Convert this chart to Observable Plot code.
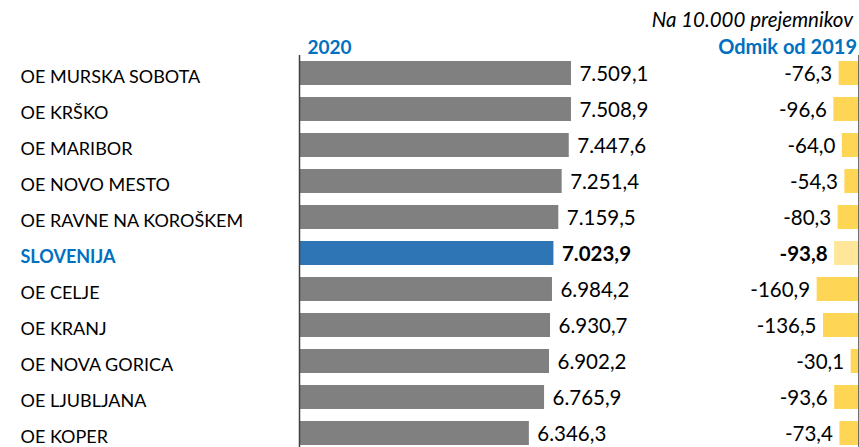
<!DOCTYPE html>
<html>
<head>
<meta charset="utf-8">
<script src="https://cdn.jsdelivr.net/npm/d3@7"></script>
<script src="https://cdn.jsdelivr.net/npm/@observablehq/plot@0.6"></script>
<style>
  body { margin: 0; background: #fff; }
  #wrap { position: relative; width: 859px; height: 447px; }
  #wrap svg { position: absolute; left: 0; top: 0; }
</style>
</head>
<body>
<div id="wrap"></div>
<script>
const categories = ["OE MURSKA SOBOTA", "OE KRŠKO", "OE MARIBOR", "OE NOVO MESTO", "OE RAVNE NA KOROŠKEM", "SLOVENIJA", "OE CELJE", "OE KRANJ", "OE NOVA GORICA", "OE LJUBLJANA", "OE KOPER"];
const values2020 = [7509.1, 7508.9, 7447.6, 7251.4, 7159.5, 7023.9, 6984.2, 6930.7, 6902.2, 6765.9, 6346.3];
const diff2019 = [-76.3, -96.6, -64.0, -54.3, -80.3, -93.8, -160.9, -136.5, -30.1, -93.6, -73.4];
const highlight = "SLOVENIJA";

const data = categories.map((c, i) => ({cat: c, v: values2020[i], d: diff2019[i], hl: c === highlight}));
const normal = data.filter(d => !d.hl);
const hl = data.filter(d => d.hl);
const fmt = d3.formatLocale({decimal: ",", thousands: ".", grouping: [3], currency: ["", ""], minus: "-"}).format(",.1f");
const FONT = "Lato, sans-serif";
const FS_LABEL = 18;
const FS_NUM = 20.5;
const W = 859, H = 447;
const yOpts = {domain: categories, range: [55, 451], paddingInner: 1 / 3, paddingOuter: 1 / 6, round: false, axis: null};

const left = Plot.plot({
  width: W, height: H,
  marginLeft: 299, marginRight: W - 299 - 362.2, marginTop: 55, marginBottom: 0,
  style: {fontFamily: FONT, fontSize: FS_NUM + "px", background: "transparent"},
  x: {domain: [0, 10000], axis: null},
  y: yOpts,
  marks: [
    Plot.barX(normal, {x: "v", y: "cat", fill: "#808080"}),
    Plot.barX(hl, {x: "v", y: "cat", fill: "#2E75B6"}),
    Plot.ruleX([0], {stroke: "#404040", strokeWidth: 1.5}),
    Plot.text(normal, {x: "v", y: "cat", text: d => fmt(d.v), textAnchor: "start", dx: 8, dy: 1, fill: "#000"}),
    Plot.text(hl, {x: "v", y: "cat", text: d => fmt(d.v), textAnchor: "start", dx: 8, dy: 1, fill: "#000", fontWeight: "bold"}),
    Plot.text(normal, {y: "cat", text: "cat", frameAnchor: "left", textAnchor: "start", dx: -279, dy: 4,
      fill: "#000", fontSize: FS_LABEL}),
    Plot.text(hl, {y: "cat", text: "cat", frameAnchor: "left", textAnchor: "start", dx: -279, dy: 4,
      fill: "#0070C0", fontWeight: "bold", fontSize: FS_LABEL}),
    Plot.text(["2020"], {frameAnchor: "top-left", text: d => d, textAnchor: "start", lineAnchor: "bottom",
      dx: 8, dy: -2, fill: "#0070C0", fontWeight: "bold", fontSize: 19})
  ]
});

const right = Plot.plot({
  width: W, height: H,
  marginLeft: 858.5 - 78, marginRight: 0.5, marginTop: 55, marginBottom: 0,
  style: {fontFamily: FONT, fontSize: FS_NUM + "px", background: "transparent"},
  x: {domain: [-300, 0], axis: null},
  y: yOpts,
  marks: [
    Plot.barX(normal, {x: "d", y: "cat", fill: "#FFD556"}),
    Plot.barX(hl, {x: "d", y: "cat", fill: "#FFE699"}),
    Plot.ruleX([0], {stroke: "#404040", strokeWidth: 1.5}),
    Plot.text(normal, {x: "d", y: "cat", text: d => fmt(d.d), textAnchor: "end", dx: -7, dy: 1, fill: "#000"}),
    Plot.text(hl, {x: "d", y: "cat", text: d => fmt(d.d), textAnchor: "end", dx: -7, dy: 1, fill: "#000", fontWeight: "bold"}),
    Plot.text(["Odmik od 2019"], {frameAnchor: "top-right", text: d => d, textAnchor: "end", lineAnchor: "bottom",
      dx: -2, dy: -2, fill: "#0070C0", fontWeight: "bold", fontSize: 20}),
    Plot.text(["Na 10.000 prejemnikov"], {frameAnchor: "top-right", text: d => d, textAnchor: "end", lineAnchor: "bottom",
      dx: -6, dy: -29, fill: "#000", fontStyle: "italic", fontSize: 20.5})
  ]
});

document.getElementById("wrap").append(left, right);
</script>
</body>
</html>
